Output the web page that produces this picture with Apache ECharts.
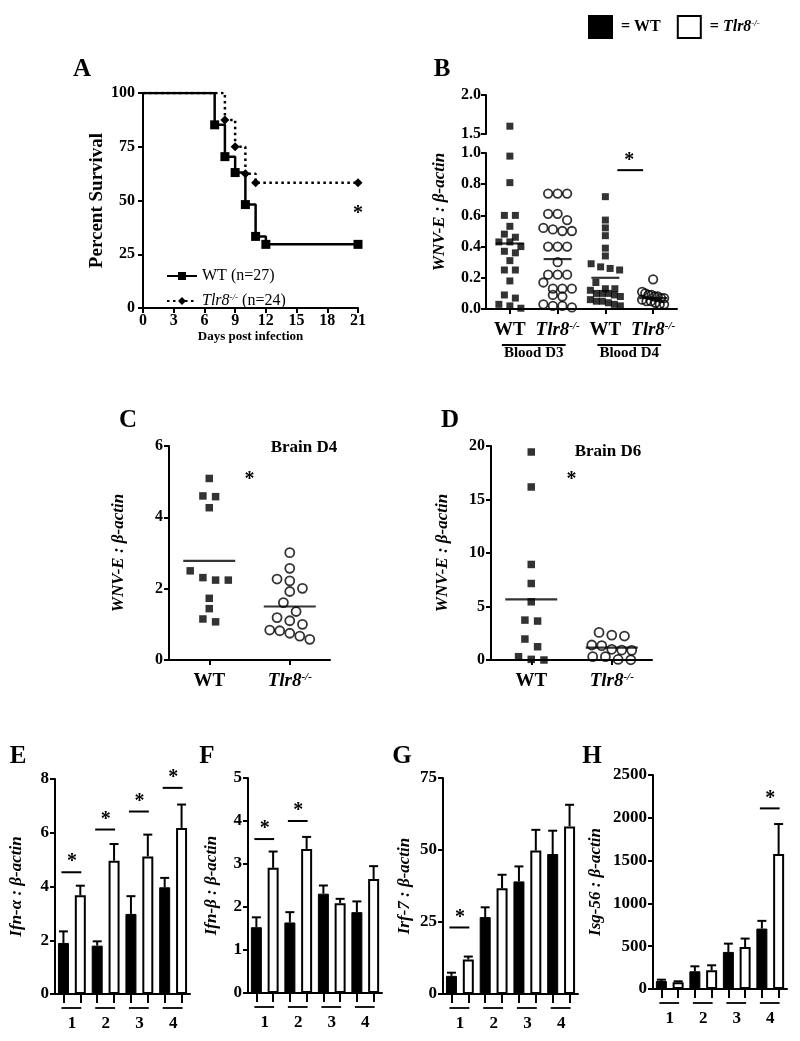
<!DOCTYPE html>
<html><head><meta charset="utf-8">
<script src="https://cdn.jsdelivr.net/npm/echarts@6/dist/echarts.min.js"></script>
<style>html,body{margin:0;padding:0;background:#fff}#c{width:800px;height:1041px}</style>
</head><body><div id="c"></div>
<script>
// ---------------- DATA ----------------
// Panel A: Kaplan-Meier survival
const survDaysWT = [0, 7, 8, 9, 10, 11, 12, 21];
const survPctWT  = [100, 85.2, 70.4, 63.0, 48.1, 33.3, 29.6, 29.6];
const survDaysKO = [0, 8, 9, 10, 11, 21];
const survPctKO  = [100, 87.5, 75.0, 62.5, 58.3, 58.3];
const survStar   = [21, 44];

// Panel B: blood viral load
const bloodCats   = ['WT', 'Tlr8-/-', 'WT', 'Tlr8-/-'];
const bloodGroups = ['Blood D3', 'Blood D4'];
const bD3WT = [1.6, 0.98, 0.81, 0.60, 0.60, 0.53, 0.48, 0.46, 0.43, 0.43, 0.40, 0.37, 0.36, 0.31, 0.25, 0.25, 0.18, 0.09, 0.07, 0.03, 0.02, 0.005];
const bD3KO = [0.74, 0.74, 0.74, 0.61, 0.61, 0.57, 0.52, 0.51, 0.50, 0.50, 0.40, 0.40, 0.40, 0.30, 0.22, 0.22, 0.22, 0.17, 0.13, 0.13, 0.13, 0.09, 0.08, 0.03, 0.02, 0.01, 0.02];
const bD4WT = [0.72, 0.57, 0.52, 0.47, 0.39, 0.34, 0.29, 0.27, 0.26, 0.25, 0.17, 0.13, 0.13, 0.12, 0.10, 0.10, 0.10, 0.09, 0.08, 0.06, 0.05, 0.05, 0.04, 0.03, 0.02];
const bD4KO = [0.19, 0.11, 0.10, 0.09, 0.09, 0.08, 0.08, 0.07, 0.07, 0.06, 0.05, 0.05, 0.04, 0.03, 0.03];
const bMeans = [0.42, 0.32, 0.20, 0.07];
const bStarY = 0.89;

// Panels C, D: brain viral load
const brainCats = ['WT', 'Tlr8-/-'];
const cWT = [5.09, 4.58, 4.60, 4.27, 2.31, 2.24, 2.24, 2.50, 1.73, 1.44, 1.15, 1.07];
const cKO = [3.01, 2.57, 2.22, 2.27, 2.01, 1.92, 1.61, 1.36, 1.10, 1.00, 1.19, 0.84, 0.75, 0.58, 0.67, 0.82];
const cMeans = [2.78, 1.50];
const cStarY = 5.05;
const dWT = [19.44, 16.17, 8.93, 7.15, 5.44, 3.64, 3.73, 1.96, 1.24, 0.31, 0.0, 0.06];
const dKO = [2.33, 2.58, 2.24, 1.40, 1.34, 1.00, 0.93, 0.90, 0.31, 0.31, 0.05, 0.02];
const dMeans = [5.66, 1.15];
const dStarY = 16.8;

// Panels E-H: gene expression (mean, error)
const geneGroups = ['1', '2', '3', '4'];
const ifnaWT = [1.90, 1.80, 2.98, 3.97],   ifnaWTerr = [0.43, 0.16, 0.66, 0.35];
const ifnaKO = [3.67, 4.96, 5.12, 6.18],   ifnaKOerr = [0.36, 0.62, 0.81, 0.87];
const ifnaSig = [[0, 4.53], [1, 6.12], [2, 6.79], [3, 7.67]];
const ifnbWT = [1.53, 1.64, 2.31, 1.88],   ifnbWTerr = [0.23, 0.24, 0.19, 0.25];
const ifnbKO = [2.91, 3.35, 2.09, 2.65],   ifnbKOerr = [0.38, 0.28, 0.10, 0.30];
const ifnbSig = [[0, 3.58], [1, 4.0]];
const irf7WT = [6.3, 26.7, 39.1, 48.6],    irf7WTerr = [1.1, 3.4, 5.2, 8.1];
const irf7KO = [12.0, 36.7, 49.8, 58.2],   irf7KOerr = [1.0, 4.7, 7.2, 7.5];
const irf7Sig = [[0, 23.1]];
const isgWT = [94, 207, 433, 706],         isgWTerr = [15, 58, 97, 90];
const isgKO = [78, 218, 491, 1576],        isgKOerr = [12, 59, 98, 351];
const isgSig = [[3, 2110]];

// ---------------- STYLE HELPERS ----------------
const FONT = '"Liberation Serif", "Times New Roman", serif';
const LS = {color: '#000', width: 2};
const supRich = {
  b: {fontFamily: FONT, fontWeight: 'bold', fontSize: 19, color: '#000'},
  i: {fontFamily: FONT, fontWeight: 'bold', fontStyle: 'italic', fontSize: 19, color: '#000'},
  s: {fontFamily: FONT, fontWeight: 'bold', fontStyle: 'italic', fontSize: 11, color: '#000', verticalAlign: 'top'}
};
function koFmt(v) { return v === 'WT' ? '{b|WT}' : '{i|Tlr8}{s|-/-}'; }

function yAx(gi, min, max, interval, name, nameGap, o) {
  o = o || {};
  const ax = {
    type: 'value', gridIndex: gi, min: min, max: max, interval: interval,
    axisLine: {show: true, onZero: false, lineStyle: LS},
    axisTick: {show: true, length: 5, lineStyle: LS},
    splitLine: {show: false},
    axisLabel: {color: '#000', fontFamily: FONT, fontWeight: 'bold', fontSize: o.fs || 16, margin: o.margin || 7,
                formatter: o.fmt || (v => String(v))},
    name: name, nameLocation: 'middle', nameGap: nameGap, nameRotate: 90,
    nameTextStyle: {color: '#000', fontFamily: FONT, fontWeight: 'bold', fontStyle: o.italic === false ? 'normal' : 'italic', fontSize: o.nfs || 17}
  };
  return ax;
}
function catX(gi, data, o) {
  o = o || {};
  return {
    type: 'category', gridIndex: gi, data: data,
    axisLine: {show: true, onZero: false, lineStyle: LS},
    axisTick: {show: true, alignWithLabel: true, interval: 0, length: o.tick || 5, lineStyle: LS},
    splitLine: {show: false},
    axisLabel: o.labels ? {show: true, interval: 0, margin: o.margin || 10, formatter: koFmt, rich: supRich} : {show: false}
  };
}

// horizontal spread: rows of near-equal values, centred on the category
function spread(vals, pxPerUnit, rowH, sep, maxW) {
  const idx = vals.map((v, i) => i).sort((a, b) => vals[b] - vals[a]);
  const off = new Array(vals.length).fill(0);
  let row = [], top = null;
  const flush = () => {
    const n = row.length; let s = sep;
    if ((n - 1) * s > maxW) s = maxW / (n - 1);
    row.forEach((i, k) => { off[i] = (k - (n - 1) / 2) * s; });
    row = [];
  };
  for (const i of idx) {
    if (row.length && (top - vals[i]) * pxPerUnit >= rowH) flush();
    if (!row.length) top = vals[i];
    row.push(i);
  }
  flush();
  return off;
}
function dots(name, xi, cat, vals, pxPerUnit, rowH, sep, maxW, filled, size, filter) {
  const off = spread(vals, pxPerUnit, rowH, sep, maxW);
  const data = [];
  vals.forEach((v, k) => { if (!filter || filter(v)) data.push({value: [cat, v], symbolOffset: [off[k], 0]}); });
  return {
    type: 'scatter', name: name, xAxisIndex: xi, yAxisIndex: xi, data: data,
    symbol: filled ? 'rect' : 'circle', symbolSize: size, z: 3, silent: true,
    itemStyle: filled ? {color: '#000'} : {color: 'rgba(0,0,0,0)', borderColor: '#000', borderWidth: 1.8}
  };
}
function means(xi, vals, w) {
  return {
    type: 'scatter', name: 'mean', xAxisIndex: xi, yAxisIndex: xi, silent: true, z: 4,
    symbol: 'rect', symbolSize: [w, 2.2], itemStyle: {color: '#000'},
    data: vals.map((v, k) => [k, v])
  };
}
// significance: rows [i0, y, i1, withLine]
function sig(xi, rows, padL, padR, starUp, fs) {
  return {
    type: 'custom', name: 'sig', xAxisIndex: xi, yAxisIndex: xi, silent: true, z: 5, clip: false,
    encode: {x: 0, y: 1},
    data: rows,
    renderItem: function (params, api) {
      const a = api.coord([api.value(0), api.value(1)]);
      const b = api.coord([api.value(2), api.value(1)]);
      const withLine = api.value(3) === 1;
      const cx = (a[0] + b[0]) / 2;
      const ch = [];
      if (withLine) ch.push({type: 'line', shape: {x1: a[0] + padL, y1: a[1], x2: b[0] + padR, y2: a[1]}, style: {stroke: '#000', lineWidth: 2}});
      ch.push({type: 'text', x: cx, y: a[1] - starUp, style: {text: '*', fill: '#000', fontFamily: FONT, fontWeight: 'bold', fontSize: fs || 20, align: 'center', verticalAlign: 'middle'}});
      return {type: 'group', children: ch};
    }
  };
}
// group labels under a pair of categories: rows [i0, 0, i1]
function groupLabels(xi, rows, names, lineDy, textDy, padL, padR, fs, withLine) {
  return {
    type: 'custom', name: 'grp', xAxisIndex: xi, yAxisIndex: xi, silent: true, clip: false,
    encode: {x: 0, y: 1}, data: rows,
    renderItem: function (params, api) {
      const a = api.coord([api.value(0), 0]);
      const b = api.coord([api.value(2), 0]);
      const ch = [];
      if (withLine) ch.push({type: 'line', shape: {x1: a[0] + padL, y1: a[1] + lineDy, x2: b[0] + padR, y2: a[1] + lineDy}, style: {stroke: '#000', lineWidth: 1.8}});
      ch.push({type: 'text', x: (a[0] + b[0]) / 2, y: a[1] + textDy, style: {text: names[params.dataIndex], fill: '#000', fontFamily: FONT, fontWeight: 'bold', fontSize: fs, align: 'center', verticalAlign: 'middle'}});
      return {type: 'group', children: ch};
    }
  };
}
function errBars(xi, vals, errs, shift) {
  return {
    type: 'custom', name: 'err', xAxisIndex: xi, yAxisIndex: xi, silent: true, z: 4, clip: false,
    encode: {x: 0, y: 1},
    data: vals.map((v, k) => [2 * k + shift, v, errs[k]]),
    renderItem: function (params, api) {
      const x = api.value(0), v = api.value(1), e = api.value(2);
      const p0 = api.coord([x, v]), p1 = api.coord([x, v + e]);
      return {type: 'group', children: [
        {type: 'line', shape: {x1: p0[0], y1: p0[1], x2: p1[0], y2: p1[1]}, style: {stroke: '#000', lineWidth: 2}},
        {type: 'line', shape: {x1: p1[0] - 4.5, y1: p1[1], x2: p1[0] + 4.5, y2: p1[1]}, style: {stroke: '#000', lineWidth: 2}}
      ]};
    }
  };
}
function barPanel(xi, wt, wtErr, ko, koErr, sigRows) {
  const wtData = [], koData = [];
  wt.forEach((v, k) => { wtData.push(v, '-'); koData.push('-', ko[k]); });
  return [
    {type: 'bar', name: 'WT', xAxisIndex: xi, yAxisIndex: xi, data: wtData, barWidth: 11, barGap: '-100%', silent: true,
     itemStyle: {color: '#000', borderColor: '#000', borderWidth: 1}},
    {type: 'bar', name: 'Tlr8-/-', xAxisIndex: xi, yAxisIndex: xi, data: koData, barWidth: 11, barGap: '-100%', silent: true,
     itemStyle: {color: '#fff', borderColor: '#000', borderWidth: 2}},
    errBars(xi, wt, wtErr, 0),
    errBars(xi, ko, koErr, 1),
    sig(xi, sigRows.map(r => [2 * r[0], r[1], 2 * r[0] + 1, 1]), -2, 1, 10, 20),
    groupLabels(xi, geneGroups.map((g, k) => [2 * k, 0, 2 * k + 1]), geneGroups, 14, 30, -2, 1, 17, true)
  ];
}
const barCats = [];
geneGroups.forEach(g => { barCats.push(g + '-WT', g + '-KO'); });

// ---------------- LAYOUT ----------------
const grids = [
  {left: 143, top: 93, width: 215, height: 215},   // 0 A
  {left: 486, top: 95, width: 191, height: 39},    // 1 B upper
  {left: 486, top: 153, width: 191, height: 156},  // 2 B lower
  {left: 169, top: 446, width: 161, height: 214},  // 3 C
  {left: 491, top: 446, width: 161, height: 214},  // 4 D
  {left: 55, top: 779, width: 135, height: 215},   // 5 E
  {left: 248, top: 778, width: 134, height: 215},  // 6 F
  {left: 443, top: 778, width: 135, height: 216},  // 7 G
  {left: 653, top: 775, width: 134, height: 214}   // 8 H
];

const xAxes = [
  {type: 'value', gridIndex: 0, min: 0, max: 21, interval: 3,
   axisLine: {show: true, onZero: false, lineStyle: LS}, axisTick: {show: true, length: 5, lineStyle: LS}, splitLine: {show: false},
   axisLabel: {color: '#000', fontFamily: FONT, fontWeight: 'bold', fontSize: 16, margin: 5},
   name: 'Days post infection', nameLocation: 'middle', nameGap: 19,
   nameTextStyle: {color: '#000', fontFamily: FONT, fontWeight: 'bold', fontSize: 13}},
  Object.assign(catX(1, bloodCats), {show: false}),
  catX(2, bloodCats, {labels: true, margin: 12}),
  catX(3, brainCats, {labels: true, margin: 12}),
  catX(4, brainCats, {labels: true, margin: 12}),
  catX(5, barCats, {tick: 9}),
  catX(6, barCats, {tick: 9}),
  catX(7, barCats, {tick: 9}),
  catX(8, barCats, {tick: 9})
];
const f1 = v => v.toFixed(1);
const yAxes = [
  yAx(0, 0, 100, 25, 'Percent Survival', 36, {italic: false, nfs: 19, margin: 8}),
  yAx(1, 1.5, 2.0, 0.5, '', 0, {fmt: f1, margin: 5}),
  yAx(2, 0, 1.0, 0.2, '', 0, {fmt: f1, margin: 5}),
  yAx(3, 0, 6, 2, 'WNV-E : \u03b2-actin', 42, {margin: 6}),
  yAx(4, 0, 20, 5, 'WNV-E : \u03b2-actin', 40, {margin: 6}),
  yAx(5, 0, 8, 2, 'Ifn-\u03b1 : \u03b2-actin', 30, {margin: 6, fs: 17}),
  yAx(6, 0, 5, 1, 'Ifn-\u03b2 : \u03b2-actin', 28, {margin: 6, fs: 17}),
  yAx(7, 0, 75, 25, 'Irf-7 : \u03b2-actin', 30, {margin: 6, fs: 17}),
  yAx(8, 0, 2500, 500, 'Isg-56 : \u03b2-actin', 49, {margin: 6, fs: 17})
];

// ---------------- SERIES ----------------
const series = [];
// A
series.push({
  type: 'line', name: 'WT (n=27)', xAxisIndex: 0, yAxisIndex: 0, step: 'end', silent: true,
  data: survDaysWT.map((d, k) => k === 0 ? {value: [d, survPctWT[k]], symbol: 'none'} : [d, survPctWT[k]]),
  symbol: 'rect', symbolSize: 9, showAllSymbol: true,
  lineStyle: {color: '#000', width: 2.5}, itemStyle: {color: '#000'}, z: 3
});
series.push({
  type: 'line', name: 'Tlr8-/- (n=24)', xAxisIndex: 0, yAxisIndex: 0, step: 'end', silent: true,
  data: survDaysKO.map((d, k) => k === 0 ? {value: [d, survPctKO[k]], symbol: 'none'} : [d, survPctKO[k]]),
  symbol: 'diamond', symbolSize: 9, showAllSymbol: true,
  lineStyle: {color: '#000', width: 2.5, type: [2.5, 3.5]}, itemStyle: {color: '#000'}, z: 2
});
series.push(sig(0, [[survStar[0], survStar[1], survStar[0], 0]], 0, 0, 0, 20));

// B
const bPx = 156;
series.push(dots('bD3WT', 2, 0, bD3WT, bPx, 7, 11, 30, true, 7, v => v <= 1));
series.push(dots('bD3WTup', 1, 0, bD3WT, bPx, 7, 11, 30, true, 7, v => v > 1));
series.push(dots('bD3KO', 2, 1, bD3KO, bPx, 7, 9.5, 30, false, 8.5));
series.push(dots('bD4WT', 2, 2, bD4WT, bPx, 7, 9.5, 30, true, 7));
series.push(dots('bD4KO', 2, 3, bD4KO, bPx, 7, 8, 22, false, 8.5));
series.push(means(2, bMeans, 28));
series.push(sig(2, [[2, bStarY, 3, 1]], 12, -10, 9, 20));
series.push(groupLabels(2, [[0, 0, 1], [2, 0, 3]], bloodGroups, 36, 44, -8, 8, 15, true));

// C
series.push(dots('cWT', 3, 0, cWT, 35.67, 10, 12.7, 40, true, 7.5));
series.push(dots('cKO', 3, 1, cKO, 35.67, 10, 12.7, 40, false, 9));
series.push(means(3, cMeans, 52));
series.push(sig(3, [[0, cStarY, 1, 0]], 0, 0, 0, 20));
// D
series.push(dots('dWT', 4, 0, dWT, 10.7, 9, 12.7, 40, true, 7.5));
series.push(dots('dKO', 4, 1, dKO, 10.7, 9, 12.7, 40, false, 9));
series.push(means(4, dMeans, 52));
series.push(sig(4, [[0, dStarY, 1, 0]], 0, 0, 0, 20));

// E-H
series.push(...barPanel(5, ifnaWT, ifnaWTerr, ifnaKO, ifnaKOerr, ifnaSig));
series.push(...barPanel(6, ifnbWT, ifnbWTerr, ifnbKO, ifnbKOerr, ifnbSig));
series.push(...barPanel(7, irf7WT, irf7WTerr, irf7KO, irf7KOerr, irf7Sig));
series.push(...barPanel(8, isgWT, isgWTerr, isgKO, isgKOerr, isgSig));

// ---------------- TEXT ----------------
const letter = (t, x, y) => ({type: 'text', x: x, y: y, style: {text: t, fill: '#000', fontFamily: FONT, fontWeight: 'bold', fontSize: 25, align: 'center', verticalAlign: 'middle'}});
const plainText = (t, x, y, fs) => ({type: 'text', x: x, y: y, style: {text: t, fill: '#000', fontFamily: FONT, fontWeight: 'bold', fontSize: fs, align: 'center', verticalAlign: 'middle'}});

const option = {
  animation: false,
  backgroundColor: '#fff',
  grid: grids,
  xAxis: xAxes,
  yAxis: yAxes,
  series: series,
  legend: [
    {data: ['WT', 'Tlr8-/-'], left: 583, top: 10, itemWidth: 23, itemHeight: 22, itemGap: 16, icon: 'rect', selectedMode: false,
     formatter: n => n === 'WT' ? '{b|= WT}' : '{b|= }{i|Tlr8}{s|-/-}',
     textStyle: {padding: [0, 0, 0, 4], rich: {
       b: {fontFamily: FONT, fontWeight: 'bold', fontSize: 16, color: '#000'},
       i: {fontFamily: FONT, fontWeight: 'bold', fontStyle: 'italic', fontSize: 16, color: '#000'},
       s: {fontFamily: FONT, fontWeight: 'bold', fontStyle: 'italic', fontSize: 9, color: '#000', verticalAlign: 'top'}}}},
    {data: ['WT (n=27)', 'Tlr8-/- (n=24)'], left: 161, top: 263, orient: 'vertical', itemWidth: 30, itemHeight: 10, itemGap: 9, selectedMode: false,
     formatter: n => n === 'WT (n=27)' ? '{n|WT (n=27)}' : '{i|Tlr8}{s|-/-}{n| (n=24)}',
     textStyle: {rich: {
       n: {fontFamily: FONT, fontSize: 16, color: '#000'},
       i: {fontFamily: FONT, fontStyle: 'italic', fontSize: 16, color: '#000'},
       s: {fontFamily: FONT, fontStyle: 'italic', fontSize: 9, color: '#000', verticalAlign: 'top'}}}}
  ],
  graphic: [
    letter('A', 82, 70), letter('B', 442, 70),
    letter('C', 128, 421), letter('D', 450, 421),
    letter('E', 18, 757), letter('F', 207, 757), letter('G', 402, 757), letter('H', 592, 757),
    plainText('Brain D4', 304, 448, 17), plainText('Brain D6', 608, 452, 17),
    {type: 'text', x: 440, y: 212, rotation: Math.PI / 2,
     style: {text: 'WNV-E : \u03b2-actin', fill: '#000', fontFamily: FONT, fontWeight: 'bold', fontStyle: 'italic', fontSize: 17, align: 'center', verticalAlign: 'middle'}}
  ]
};
const chart = echarts.init(document.getElementById('c'), null, {width: 800, height: 1041});
chart.setOption(option);
</script>
</body></html>
